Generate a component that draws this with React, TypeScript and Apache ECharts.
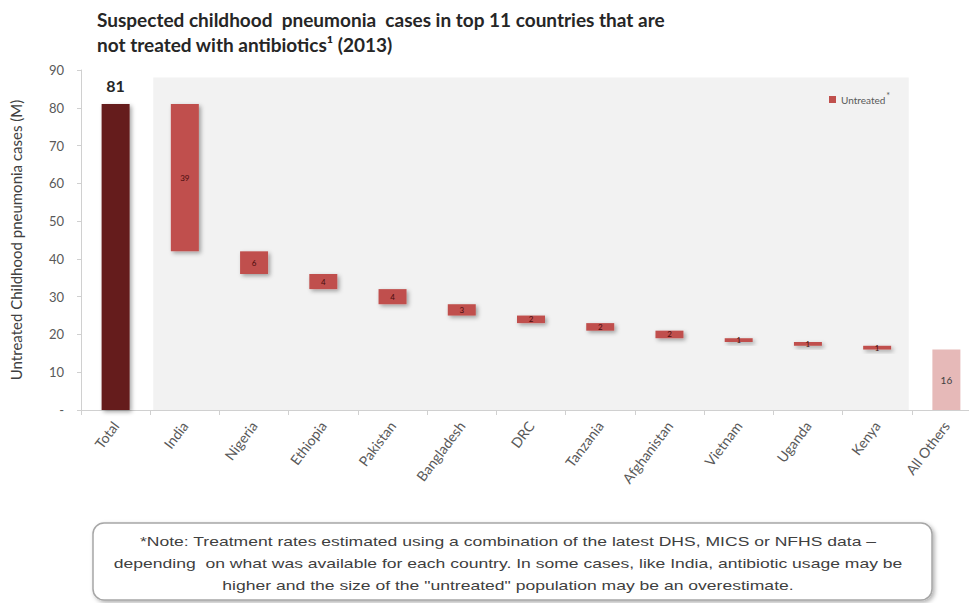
import React, { useEffect, useRef } from "react";
import * as echarts from "echarts";

const categories = [
  "Total", "India", "Nigeria", "Ethiopia", "Pakistan", "Bangladesh", "DRC",
  "Tanzania", "Afghanistan", "Vietnam", "Uganda", "Kenya", "All Others",
];
const totalValue = 81;
const countryValues = [39, 6, 4, 4, 3, 2, 2, 2, 1, 1, 1];
const othersValue = 16;
const noteLines = [
  "*Note: Treatment rates estimated using a combination of the latest DHS, MICS or NFHS data –",
  "depending  on what was available for each country. In some cases, like India, antibiotic usage may be",
  "higher and the size of the \"untreated\" population may be an overestimate.",
];

const FONT = "Lato, 'Open Sans', sans-serif";

export default function App() {
  const ref = useRef<HTMLDivElement>(null);
  useEffect(() => {
    if (!ref.current) return;
    const chart = echarts.init(ref.current, null, { renderer: "svg" });

    const bases: number[] = [0];
    let run = totalValue;
    for (const v of countryValues) {
      run -= v;
      bases.push(run);
    }
    bases.push(0);

    const red = "#c0504d";
    const values = [
      {
        value: totalValue,
        itemStyle: { color: "#651c1f" },
        label: { show: true, position: "top", fontSize: 16, fontWeight: "bold", color: "#262626", fontFamily: FONT, distance: 11 },
      },
      ...countryValues.map((v) => ({ value: v })),
      {
        value: othersValue,
        itemStyle: { color: "#e6b9b8", shadowBlur: 0, shadowOffsetX: 0, shadowOffsetY: 0 },
        label: { show: true, position: "inside", fontSize: 10, color: "#404040", fontFamily: FONT },
      },
    ];

    chart.setOption({
      animation: false,
      title: {
        text: "Suspected childhood  pneumonia  cases in top 11 countries that are\nnot treated with antibiotics¹ (2013)",
        left: 92,
        top: 2,
        textStyle: { fontFamily: FONT, fontWeight: "bold", fontSize: 19, lineHeight: 25, color: "#262626" },
      },
      legend: {
        data: ["Untreated"],
        left: 824,
        top: 86,
        icon: "rect",
        itemWidth: 7,
        itemHeight: 7,
        itemGap: 4,
        formatter: () => "{a|Untreated}{s|*}",
        textStyle: {
          fontFamily: FONT,
          fontSize: 10,
          color: "#595959",
          rich: {
            a: { fontFamily: FONT, fontSize: 10, color: "#595959" },
            s: { fontFamily: FONT, fontSize: 9, color: "#595959", verticalAlign: "top", padding: [0, 0, 8, 1] },
          },
        },
      },
      grid: { left: 81, width: 900, top: 70, bottom: 193, containLabel: false, outerBoundsMode: "none" },
      xAxis: {
        type: "category",
        data: categories,
        axisLine: { lineStyle: { color: "#d0d0d0" } },
        axisTick: { show: true, length: 5, lineStyle: { color: "#d0d0d0" } },
        axisLabel: { rotate: 53, fontSize: 14, color: "#595959", fontFamily: FONT, margin: 13, interval: 0 },
      },
      yAxis: {
        type: "value",
        min: 0,
        max: 90,
        interval: 10,
        name: "Untreated Childhood pneumonia cases (M)",
        nameLocation: "middle",
        nameGap: 58,
        nameTextStyle: { fontFamily: FONT, fontSize: 15, color: "#404040" },
        axisLine: { show: true, lineStyle: { color: "#d0d0d0" } },
        axisTick: { show: true, length: 4, lineStyle: { color: "#d0d0d0" } },
        splitLine: { show: false },
        axisLabel: {
          fontSize: 13,
          color: "#595959",
          fontFamily: FONT,
          margin: 17,
          formatter: (v: number) => (v === 0 ? "-" : String(v)),
        },
      },
      series: [
        {
          name: "base",
          type: "bar",
          stack: "w",
          barWidth: 28,
          itemStyle: { color: "transparent" },
          emphasis: { disabled: true },
          data: bases,
          z: 2,
        },
        {
          name: "Untreated",
          type: "bar",
          stack: "w",
          barWidth: 28,
          itemStyle: {
            color: red,
            shadowBlur: 4,
            shadowOffsetX: 2,
            shadowOffsetY: 2,
            shadowColor: "rgba(0,0,0,0.35)",
          },
          label: {
            show: true,
            position: "inside",
            fontSize: 8,
            color: "#4a0d0d",
            fontFamily: FONT,
          },
          data: values,
          z: 3,
        },
      ],
    });

    const xIndia = chart.convertToPixel({ xAxisIndex: 0 }, "India") as number;
    const xKenya = chart.convertToPixel({ xAxisIndex: 0 }, "Kenya") as number;
    const band = (xKenya - xIndia) / 10;
    const yTop = chart.convertToPixel({ yAxisIndex: 0 }, 88) as number;
    const yBottom = chart.convertToPixel({ yAxisIndex: 0 }, 0) as number;
    const bgLeft = xIndia - band / 2 + 3;
    const bgRight = xKenya + band / 2 - 3;

    chart.setOption({
      graphic: [
        {
          id: "plotbg",
          type: "rect",
          z: -10,
          silent: true,
          shape: { x: bgLeft, y: yTop, width: bgRight - bgLeft, height: yBottom - yTop },
          style: { fill: "#f2f2f2" },
        },
        {
          id: "notebox",
          type: "rect",
          z: 10,
          silent: true,
          shape: { x: 93, y: 523, width: 839, height: 77, r: 11 },
          style: {
            fill: "#ffffff",
            stroke: "#a6a6a6",
            lineWidth: 1.5,
            shadowBlur: 4,
            shadowOffsetX: 2,
            shadowOffsetY: 2,
            shadowColor: "rgba(0,0,0,0.3)",
          },
        },
        ...noteLines.map((t, i) => ({
          id: "note" + i,
          type: "text",
          z: 11,
          silent: true,
          x: 508,
          y: 541 + i * 22,
          scaleX: 1.35,
          style: {
            text: t,
            fontSize: 13,
            fontFamily: "'Liberation Sans', Arial, sans-serif",
            fill: "#404040",
            align: "center",
            verticalAlign: "middle",
          },
        })),
      ],
    });

    return () => chart.dispose();
  }, []);

  return (
    <div
      ref={ref}
      style={{ position: "fixed", left: 0, top: 0, width: 969, height: 603, background: "#ffffff" }}
    />
  );
}
